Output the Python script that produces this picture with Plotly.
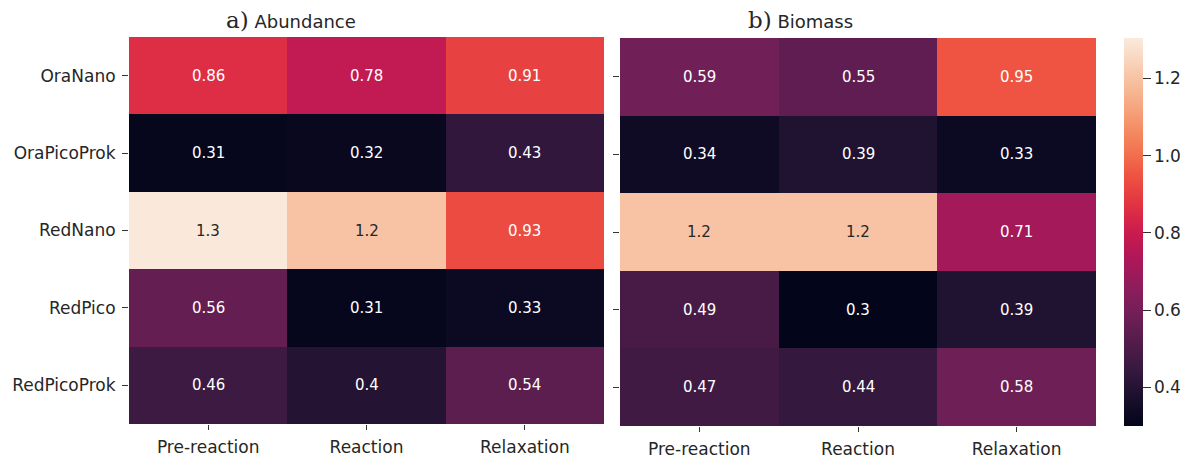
import plotly.graph_objects as go

groups = ["OraNano", "OraPicoProk", "RedNano", "RedPico", "RedPicoProk"]
phases = ["Pre-reaction", "Reaction", "Relaxation"]

abundance = [
    [0.86, 0.78, 0.91],
    [0.31, 0.32, 0.43],
    [1.3, 1.2, 0.93],
    [0.56, 0.31, 0.33],
    [0.46, 0.40, 0.54],
]
biomass = [
    [0.59, 0.55, 0.95],
    [0.34, 0.39, 0.33],
    [1.2, 1.2, 0.71],
    [0.49, 0.30, 0.39],
    [0.47, 0.44, 0.58],
]
colorbar_ticks = [0.4, 0.6, 0.8, 1.0, 1.2]

ZMIN, ZMAX = 0.30, 1.305

rocket = [
    [0.0, "#03051a"],
    [0.07, "#190f2c"],
    [0.143, "#35193e"],
    [0.214, "#521c4b"],
    [0.286, "#701f57"],
    [0.357, "#8e1d5b"],
    [0.429, "#ad1759"],
    [0.5, "#cb1b4f"],
    [0.571, "#e13342"],
    [0.643, "#ee5240"],
    [0.714, "#f37651"],
    [0.786, "#f5966e"],
    [0.857, "#f6b48f"],
    [0.93, "#f8d0b6"],
    [1.0, "#faebdd"],
]

# page has an 8px body margin; figure occupies the rest of the window
OFF = 8
W, H = 1192 - OFF, 461 - OFF
def px_x(p):
    return (p - OFF) / W
def px_y(p):
    return 1 - (p - OFF) / H

fig = go.Figure()
fig.add_trace(go.Heatmap(
    z=abundance, x=phases, y=groups, colorscale=rocket, zmin=ZMIN, zmax=ZMAX,
    showscale=False, xaxis="x", yaxis="y", hoverongaps=False,
))
fig.add_trace(go.Heatmap(
    z=biomass, x=phases, y=groups, colorscale=rocket, zmin=ZMIN, zmax=ZMAX,
    xaxis="x2", yaxis="y2",
    colorbar=dict(
        x=px_x(1124), xanchor="left", xpad=0, ypad=0,
        y=px_y(38), yanchor="top", len=(426 - 38) / H, lenmode="fraction",
        thickness=19, thicknessmode="pixels", outlinewidth=0,
        tickvals=colorbar_ticks, ticktext=[f"{t:.1f}" for t in colorbar_ticks],
        ticks="outside", ticklen=8, tickcolor="#333",
        tickfont=dict(family="DejaVu Sans", size=17, color="#262626"),
    ),
))

annotations = []
for data, xr, yr in [(abundance, "x", "y"), (biomass, "x2", "y2")]:
    for i, g in enumerate(groups):
        for j, p in enumerate(phases):
            v = data[i][j]
            norm = (v - ZMIN) / (ZMAX - ZMIN)
            col = "#262626" if norm > 0.8 else "#ffffff"
            annotations.append(dict(
                x=p, y=g, xref=xr, yref=yr, text=format(v, ".2g"),
                showarrow=False, font=dict(family="DejaVu Sans", size=15, color=col),
            ))

annotations.append(dict(
    x=px_x(291), y=px_y(20), xref="paper", yref="paper", xanchor="center", yanchor="middle",
    showarrow=False,
    text="<span style='font-family:DejaVu Serif;font-size:23px'>a)</span> Abundance",
    font=dict(family="DejaVu Sans", size=18, color="#262626"),
))
annotations.append(dict(
    x=px_x(800), y=px_y(20), xref="paper", yref="paper", xanchor="center", yanchor="middle",
    showarrow=False,
    text="<span style='font-family:DejaVu Serif;font-size:23px'>b)</span> Biomass",
    font=dict(family="DejaVu Sans", size=18, color="#262626"),
))

axis_font = dict(family="DejaVu Sans", size=17, color="#262626")
common_x = dict(ticks="outside", ticklen=5, tickcolor="#333", tickfont=axis_font,
                showgrid=False, zeroline=False, showline=False, ticklabelstandoff=3)
common_y = dict(ticks="outside", ticklen=6, tickcolor="#333", tickfont=axis_font,
                showgrid=False, zeroline=False, showline=False, autorange="reversed",
                ticklabelstandoff=3)

fig.update_layout(
    width=W, height=H,
    margin=dict(l=0, r=0, t=0, b=0),
    paper_bgcolor="white", plot_bgcolor="white",
    showlegend=False,
    xaxis=dict(domain=[px_x(129), px_x(604)], anchor="y", **common_x),
    yaxis=dict(domain=[px_y(424), px_y(37)], anchor="x", **common_y),
    xaxis2=dict(domain=[px_x(620), px_x(1096)], anchor="y2", **common_x),
    yaxis2=dict(domain=[px_y(426), px_y(38)], anchor="x2", showticklabels=False, **common_y),
    annotations=annotations,
)

fig.write_html("out.html")
